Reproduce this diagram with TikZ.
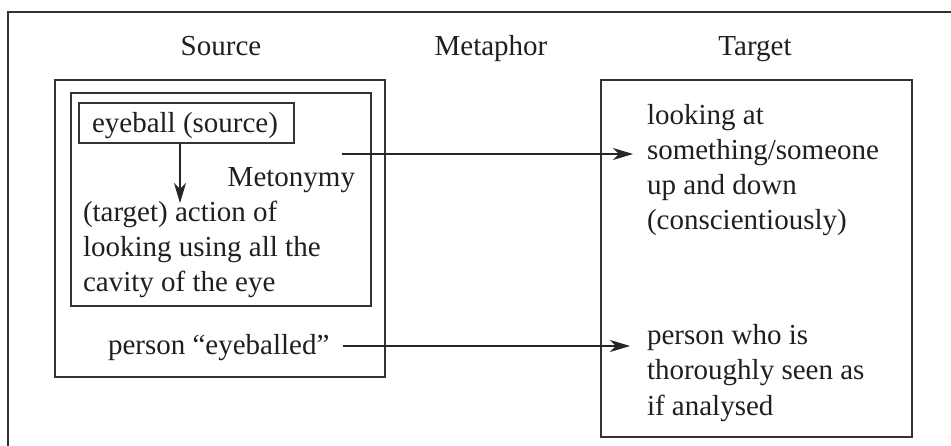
\documentclass[tikz,border=0pt]{standalone}
\usepackage{fontspec}
\setmainfont{Liberation Serif}
\usetikzlibrary{arrows.meta}
\begin{document}
\begin{tikzpicture}[x=1pt,y=-1pt,
  every node/.style={inner sep=0pt,outer sep=0pt,font=\fontsize{29}{35}\selectfont,text=black!88},
  frame/.style={draw=black!80,line width=1.1pt},
  boxnode/.style={draw=black!80,line width=1.1pt,anchor=north west},
  lbl/.style={anchor=base west},
  arr/.style={draw=black!85,line width=1.1pt,-{Stealth[length=20pt,width=12pt,inset=6pt]}}]
\useasboundingbox (0,0) rectangle (951,446);
% outer frame (cropped on the right and bottom)
\draw[frame] (8,470) -- (8,12) -- (980,12);
% headers
\node[anchor=base] (hsrc) at (221,56) {Source};
\node[anchor=base] (hmet) at (491,56) {Metaphor};
\node[anchor=base] (htgt) at (755,56) {Target};
% boxes
\node[boxnode,minimum width=330pt,minimum height=297pt] (src) at (55,80) {};
\node[boxnode,minimum width=300pt,minimum height=213pt] (inner) at (71,93) {};
\node[boxnode,minimum width=215pt,minimum height=40pt] (eyebox) at (79,103) {};
\node[boxnode,minimum width=311pt,minimum height=357pt] (tgt) at (601,80) {};
% texts
\node[lbl] (eyetxt) at (92,133) {eyeball (source)};
\node[anchor=base east] (meto) at (355,187) {Metonymy};
\node[lbl] (actionA) at (83,222) {(target) action of};
\node[lbl] (actionB) at (83,257) {looking using all the};
\node[lbl] (actionC) at (83,292) {cavity of the eye};
\node[lbl] (person) at (108,355) {person “eyeballed”};
\node[lbl] (lookA) at (647,125) {looking at};
\node[lbl] (lookB) at (647,160) {something/someone};
\node[lbl] (lookC) at (647,195) {up and down};
\node[lbl] (lookD) at (647,230) {(conscientiously)};
\node[lbl] (seenA) at (647,345) {person who is};
\node[lbl] (seenB) at (647,380) {thoroughly seen as};
\node[lbl] (seenC) at (647,415) {if analysed};
% connectors
\coordinate (m1) at (342,154);
\coordinate (m2) at (633,154);
\coordinate (p1) at (343,346);
\coordinate (p2) at (630,346);
\coordinate (v2) at (180,203);
\draw[arr] (eyebox.south -| v2) -- (v2);
\draw[arr] (m1) -- (m2);
\draw[arr] (p1) -- (p2);
\end{tikzpicture}
\end{document}
